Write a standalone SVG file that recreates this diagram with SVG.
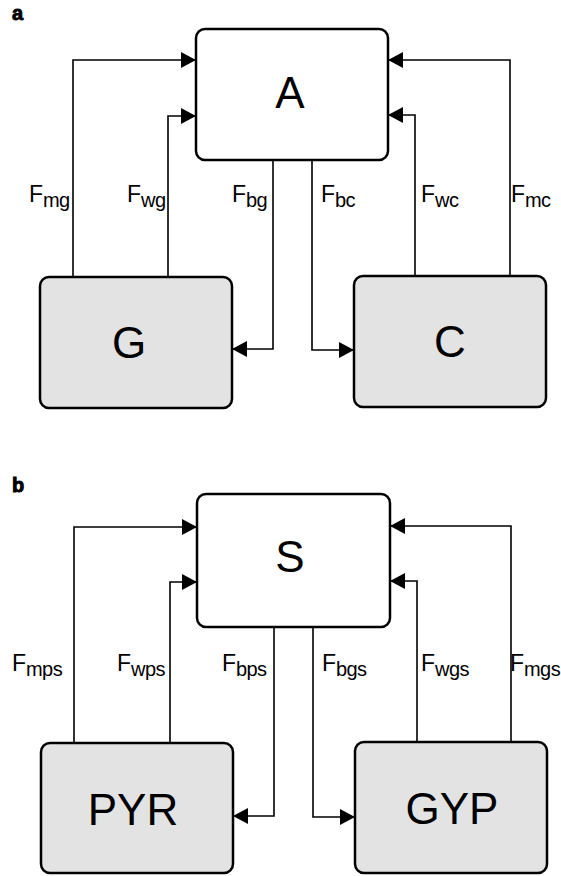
<svg xmlns="http://www.w3.org/2000/svg" width="561" height="876" viewBox="0 0 561 876">
<style>
  .box { stroke: #000; stroke-width: 2.5; }
  .top { fill: #ffffff; }
  .res { fill: #e3e3e3; }
  .big { font-family: "Liberation Sans", Arial, sans-serif; font-size: 44px; fill: #000; text-anchor: middle; }
  .lbl { font-family: "Liberation Sans", Arial, sans-serif; font-size: 23px; fill: #000; }
  .sub { font-size: 20px; letter-spacing: -0.6px; }
  .pan { font-family: "Liberation Sans", Arial, sans-serif; font-size: 20px; font-weight: 900; fill: #000; stroke: #000; stroke-width: 0.9; }
  .con { fill: none; stroke: #000; stroke-width: 1.6; marker-end: url(#arr); }
</style>
<defs>
  <marker id="arr" markerUnits="userSpaceOnUse" markerWidth="16" markerHeight="18" refX="15" refY="8" orient="auto">
    <path d="M0,0 L15,8 L0,16 z" fill="#000"/>
  </marker>
</defs>
<rect width="561" height="876" fill="#fff"/>

<text class="pan" x="12" y="20">a</text>
<text class="pan" x="12" y="492">b</text>

<g id="connectors">
  <path class="con" d="M73,277 V60 H196"/>
  <path class="con" d="M168,277 V116 H196"/>
  <path class="con" d="M273,160 V349 H232"/>
  <path class="con" d="M312,160 V350 H354"/>
  <path class="con" d="M415,276 V115 H388"/>
  <path class="con" d="M510,276 V60 H388"/>

  <path class="con" d="M74,743 V527 H197"/>
  <path class="con" d="M170,743 V582 H197"/>
  <path class="con" d="M274,627 V816 H233"/>
  <path class="con" d="M313,627 V817 H355"/>
  <path class="con" d="M417,742 V581 H390"/>
  <path class="con" d="M511,742 V526 H390"/>

  <text class="lbl" x="29" y="202">F<tspan class="sub" dy="5">mg</tspan></text>
  <text class="lbl" x="127" y="202">F<tspan class="sub" dy="5">wg</tspan></text>
  <text class="lbl" x="232" y="202">F<tspan class="sub" dy="5">bg</tspan></text>
  <text class="lbl" x="321" y="202">F<tspan class="sub" dy="5">bc</tspan></text>
  <text class="lbl" x="421" y="202">F<tspan class="sub" dy="5">wc</tspan></text>
  <text class="lbl" x="511" y="202">F<tspan class="sub" dy="5">mc</tspan></text>

  <text class="lbl" x="12" y="671">F<tspan class="sub" dy="5">mps</tspan></text>
  <text class="lbl" x="117" y="671">F<tspan class="sub" dy="5">wps</tspan></text>
  <text class="lbl" x="222" y="671">F<tspan class="sub" dy="5">bps</tspan></text>
  <text class="lbl" x="322" y="671">F<tspan class="sub" dy="5">bgs</tspan></text>
  <text class="lbl" x="421" y="671">F<tspan class="sub" dy="5">wgs</tspan></text>
  <text class="lbl" x="510" y="671">F<tspan class="sub" dy="5">mgs</tspan></text>
</g>

<g id="A">
  <rect class="box top" x="196" y="29" width="192" height="131" rx="9"/>
  <text class="big" x="290" y="108">A</text>
</g>
<g id="G">
  <rect class="box res" x="40" y="277" width="192" height="131" rx="9"/>
  <text class="big" x="129" y="358">G</text>
</g>
<g id="C">
  <rect class="box res" x="354" y="276" width="192" height="131" rx="9"/>
  <text class="big" x="450" y="357">C</text>
</g>

<g id="S">
  <rect class="box top" x="197" y="494" width="193" height="133" rx="9"/>
  <text class="big" x="290" y="572">S</text>
</g>
<g id="PYR">
  <rect class="box res" x="41" y="743" width="192" height="130" rx="9"/>
  <text class="big" x="133" y="825">PYR</text>
</g>
<g id="GYP">
  <rect class="box res" x="355" y="742" width="192" height="131" rx="9"/>
  <text class="big" x="452" y="824">GYP</text>
</g>
</svg>
